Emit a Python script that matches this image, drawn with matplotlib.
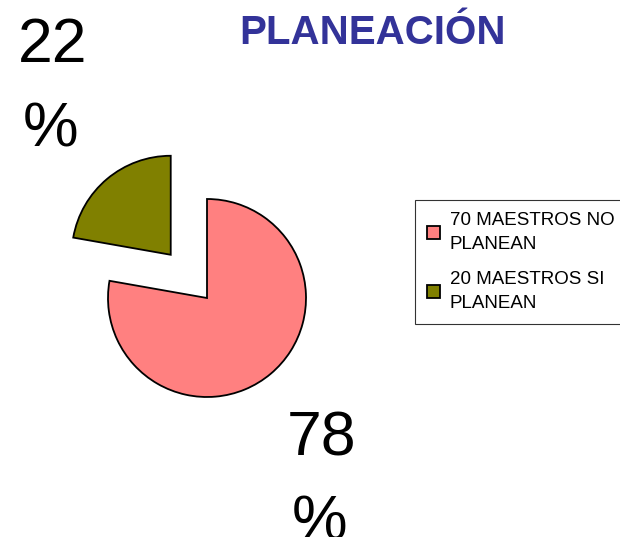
import matplotlib.pyplot as plt

# data
labels = ['70 MAESTROS NO\nPLANEAN', '20 MAESTROS SI\nPLANEAN']
values = [70, 20]
colors = ['#FF8080', '#808000']
explode = [0, 0.57]
title = 'PLANEACIÓN'

plt.rcParams['font.family'] = ['Liberation Sans', 'DejaVu Sans']

W, H = 620, 537
cx, cy, r = 207, 298, 99  # pie centre / radius in pixels

fig = plt.figure(figsize=(W / 100, H / 100), dpi=100)
ax = fig.add_axes([0, 0, 1, 1])

wedges, _ = ax.pie(values, colors=colors, explode=explode, startangle=90,
                   counterclock=False, radius=1,
                   wedgeprops=dict(edgecolor='black', linewidth=1.3))

# pie() resets limits, so set them afterwards
ax.set_xlim(-cx / r, (W - cx) / r)
ax.set_ylim(-(H - cy) / r, cy / r)
ax.set_aspect('equal')
ax.axis('off')

pcts = [round(v / sum(values) * 100) for v in values]

def px(x, y):
    return (x - cx) / r, (cy - y) / r

# percentage labels (split over two lines like the original)
for pct, (x, y) in zip(pcts, [(322, 439), (53, 46)]):
    ax.text(*px(x, y), str(pct), fontsize=45, ha='center', va='center')
    ax.text(*px(x - 2, y + 84), '%', fontsize=45, ha='center', va='center')

fig.text(373 / W, 1 - 33 / H, title, fontsize=29, fontweight='bold',
         color='#333399', ha='center', va='center')

leg = fig.legend(wedges, labels, loc='upper left',
                 bbox_to_anchor=(415 / W, 1 - 200 / H),
                 fontsize=13.5, frameon=True, fancybox=False,
                 edgecolor='black', handlelength=0.7, handleheight=0.7,
                 handletextpad=0.5, labelspacing=1.0, borderpad=0.65,
                 borderaxespad=0)
leg.get_frame().set_linewidth(0.8)
for t in leg.get_texts():
    t.set_linespacing(1.5)

fig.savefig('out.png', dpi=100)
